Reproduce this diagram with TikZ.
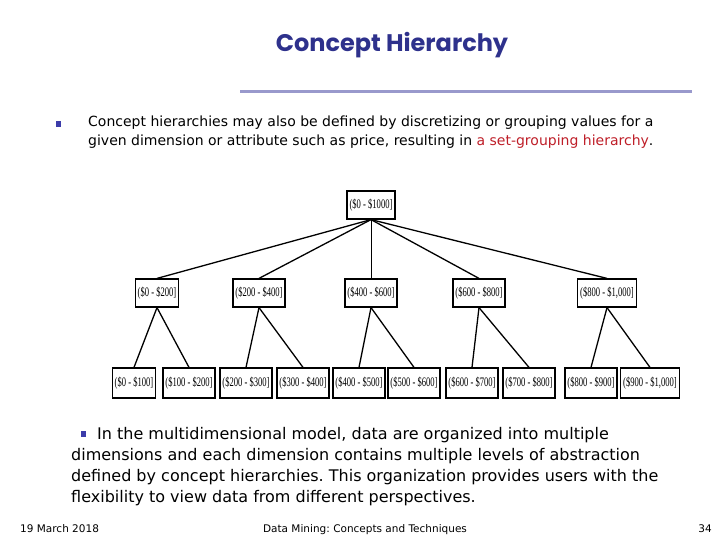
\documentclass[tikz,border=0pt]{standalone}
\usepackage{fontspec}
\setmainfont{DejaVu Sans}
\newfontfamily\titlefont{Poppins}
\newfontfamily\boxfont[FakeStretch=0.66]{Liberation Serif}
\definecolor{titleblue}{RGB}{46,49,140}
\definecolor{rulelilac}{RGB}{153,153,204}
\definecolor{bulletblue}{RGB}{60,60,170}
\definecolor{setred}{RGB}{190,30,40}
\frenchspacing
\tikzset{
  pricebox/.style={draw=black,line width=1.2pt,inner xsep=2.5pt,inner ysep=0pt,
    font=\boxfont\fontsize{13}{13}\selectfont},
  bulletsq/.style={fill=bulletblue,minimum size=5.5pt,inner sep=0pt},
}

\begin{document}
\begin{tikzpicture}[x=1pt,y=-1pt]
  \useasboundingbox (0,0) rectangle (720,540);

  % title and rule
  \node[anchor=base,text=titleblue,font=\titlefont\bfseries\fontsize{24}{24}\selectfont] (title) at (392,52) {Concept Hierarchy};
  \draw[rulelilac,line width=3pt] (240,92) -- (692,92);

  % first bullet
  \node[bulletsq] (b1) at (58.5,124) {};
  \node[anchor=north west,inner sep=0pt,align=left,font=\fontsize{14}{19}\selectfont] (p1) at (88,116)
    {Concept hierarchies may also be defined by discretizing or grouping values for a\\
     given dimension or attribute such as price, resulting in \textcolor{setred}{a set-grouping hierarchy}.};

  % the tree
  \begin{scope}[every node/.style={pricebox,minimum height=28pt}]
    \node (r)  at (371,205) {(\$0 - \$1000]};
    \node (a1) at (157,293) {(\$0 - \$200]};
    \node (a2) at (259,293) {(\$200 - \$400]};
    \node (a3) at (371,293) {(\$400 - \$600]};
    \node (a4) at (479,293) {(\$600 - \$800]};
    \node (a5) at (607,293) {(\$800 - \$1,000]};
  \end{scope}
  \begin{scope}[every node/.style={pricebox,minimum height=30pt}]
    \node (c1)  at (134,383) {(\$0 - \$100]};
    \node (c2)  at (189,383) {(\$100 - \$200]};
    \node (c3)  at (246,383) {(\$200 - \$300]};
    \node (c4)  at (303,383) {(\$300 - \$400]};
    \node (c5)  at (359,383) {(\$400 - \$500]};
    \node (c6)  at (414,383) {(\$500 - \$600]};
    \node (c7)  at (472,383) {(\$600 - \$700]};
    \node (c8)  at (529,383) {(\$700 - \$800]};
    \node (c9)  at (591,383) {(\$800 - \$900]};
    \node (c10) at (650,383) {(\$900 - \$1,000]};
  \end{scope}
  \begin{scope}[every edge/.style={draw=black,line width=1.3pt}]
    \path (r.south) edge (a1.north);   \path (r.south) edge (a2.north);
    \path (r.south) edge[line width=0.7pt] (a3.north);
    \path (r.south) edge (a4.north);   \path (r.south) edge (a5.north);
    \path (a1.south) edge (c1.north);  \path (a1.south) edge (c2.north);
    \path (a2.south) edge (c3.north);  \path (a2.south) edge (c4.north);
    \path (a3.south) edge (c5.north);  \path (a3.south) edge (c6.north);
    \path (a4.south) edge (c7.north);  \path (a4.south) edge (c8.north);
    \path (a5.south) edge (c9.north);  \path (a5.south) edge (c10.north);
  \end{scope}

  % second bullet
  \node[bulletsq] (b2) at (83.5,434) {};
  \node[anchor=north west,inner sep=0pt,align=left,font=\fontsize{16}{21}\selectfont] (p2) at (71,427)
    {\hspace*{26pt}In the multidimensional model, data are organized into multiple\\
     dimensions and each dimension contains multiple levels of abstraction\\
     defined by concept hierarchies. This organization provides users with the\\
     flexibility to view data from different perspectives.};

  % footer
  \begin{scope}[every node/.style={inner sep=0pt,font=\fontsize{10.5}{10.5}\selectfont}]
    \node[anchor=base west] (date) at (20,532) {19 March 2018};
    \node[anchor=base] (course) at (365,532) {Data Mining: Concepts and Techniques};
    \node[anchor=base east] (page) at (712,532) {34};
  \end{scope}
\end{tikzpicture}
\end{document}
